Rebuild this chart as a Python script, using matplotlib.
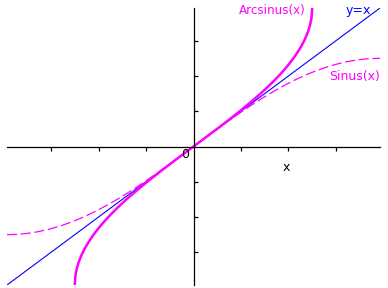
import numpy as np
import matplotlib
matplotlib.use("Agg")
import matplotlib.pyplot as plt

# Chart content: the three functions and the axis ticks
x_range = (-np.pi / 2, np.pi / 2)
y_range = (-np.pi / 2, np.pi / 2)
tick_values = [-1.2, -0.8, -0.4, 0.4, 0.8, 1.2]
x_full = np.linspace(x_range[0], x_range[1], 400)
x_asin = np.linspace(-1, 1, 400)
y_line = x_full
y_sin = np.sin(x_full)
y_asin = np.arcsin(x_asin)

magenta = "#ff00ff"
blue = "#0000ff"

fig = plt.figure(figsize=(3.88, 2.88), dpi=100)
ax = fig.add_axes([7 / 388, 3 / 288, 373 / 388, 277 / 288])

ax.plot(x_full, y_line, color=blue, lw=0.8)
ax.plot(x_full, y_sin, color=magenta, lw=0.9, dashes=(8, 3))
ax.plot(x_asin, y_asin, color=magenta, lw=1.8)

ax.set_xlim(*x_range)
ax.set_ylim(*y_range)

# axes through the origin
ax.spines["left"].set_position("zero")
ax.spines["bottom"].set_position("zero")
ax.spines["right"].set_visible(False)
ax.spines["top"].set_visible(False)
for s in ("left", "bottom"):
    ax.spines[s].set_linewidth(0.9)
ax.set_xticks(tick_values)
ax.set_yticks(tick_values)
ax.set_xticklabels([])
ax.set_yticklabels([])
ax.tick_params(axis="x", direction="out", length=3, width=0.9)
ax.tick_params(axis="y", direction="in", length=3, width=0.9)

ax.text(-0.04, -0.02, "0", ha="right", va="top", fontsize=9)
ax.text(0.78, -0.17, "x", ha="center", va="top", fontsize=9)
ax.text(0.385, 1.54, "Arcsinus(x)", color=magenta, ha="left", va="center", fontsize=8.6)
ax.text(1.28, 1.54, "y=x", color=blue, ha="left", va="center", fontsize=9)
ax.text(1.14, 0.79, "Sinus(x)", color=magenta, ha="left", va="center", fontsize=9)

fig.savefig("out.png", dpi=100)
